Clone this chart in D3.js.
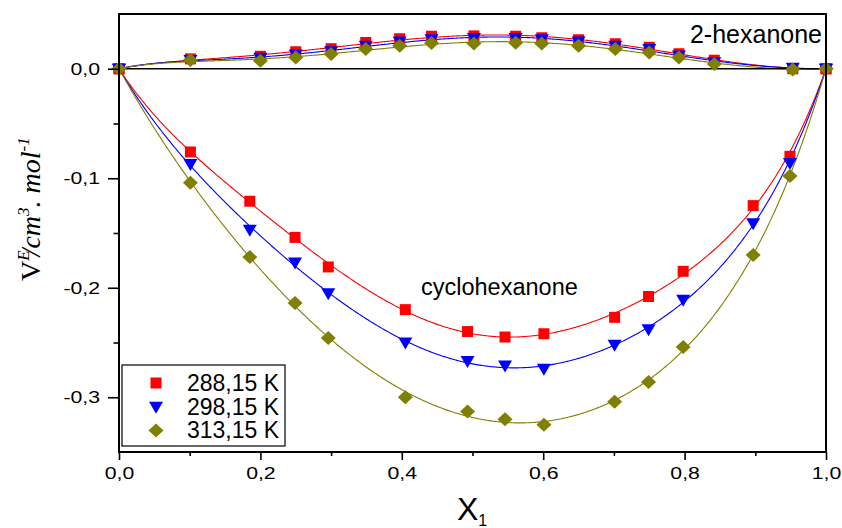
<!DOCTYPE html>
<html>
<head>
<meta charset="utf-8">
<script src="https://cdn.jsdelivr.net/npm/d3@7"></script>
<style>
  html, body { margin: 0; padding: 0; background: #fff; }
  svg { display: block; }
</style>
</head>
<body>
<svg id="chart" width="842" height="528"></svg>
<script>
// Excess molar volume V^E of the binary mixtures vs. mole fraction X1
const temperatures = ["288,15 K", "298,15 K", "313,15 K"];
const seriesColors = ["#ff0000", "#0000ff", "#808000"];
const markerKinds = ["square", "triangle", "diamond"];

// cyclohexanone system
const xCyclo  = [0, 0.101, 0.185, 0.249, 0.296, 0.405, 0.493, 0.546, 0.601, 0.701, 0.749, 0.798, 0.897, 0.949, 1];
const vCyclo288 = [0, -0.076, -0.121, -0.154, -0.181, -0.220, -0.240, -0.245, -0.242, -0.227, -0.208, -0.185, -0.125, -0.080, 0];
const vCyclo298 = [0, -0.087, -0.147, -0.177, -0.205, -0.250, -0.267, -0.271, -0.274, -0.252, -0.238, -0.211, -0.141, -0.086, 0];
const vCyclo313 = [0, -0.104, -0.172, -0.214, -0.246, -0.300, -0.313, -0.320, -0.325, -0.304, -0.286, -0.254, -0.170, -0.098, 0];

// 2-hexanone system
const xHex = [0, 0.101, 0.2, 0.25, 0.3, 0.349, 0.397, 0.442, 0.502, 0.561, 0.598, 0.65, 0.702, 0.75, 0.792, 0.842, 0.953, 1];
const vHex288 = [0, 0.009, 0.0114, 0.0155, 0.0183, 0.024, 0.0274, 0.0297, 0.030, 0.0297, 0.0283, 0.0265, 0.0228, 0.0196, 0.0137, 0.0078, 0.0, 0];
const vHex298 = [0, 0.008, 0.010, 0.013, 0.016, 0.021, 0.025, 0.027, 0.028, 0.028, 0.027, 0.025, 0.021, 0.018, 0.012, 0.006, 0.001, 0];
const vHex313 = [0, 0.0079, 0.0073, 0.0103, 0.0134, 0.018, 0.021, 0.0235, 0.0231, 0.0237, 0.0231, 0.021, 0.018, 0.0149, 0.0103, 0.0043, -0.0006, 0];

const xTicks = [0, 0.2, 0.4, 0.6, 0.8, 1.0];
const xMinorTicks = [0.1, 0.3, 0.5, 0.7, 0.9];
const yTicks = [0, -0.1, -0.2, -0.3];
const yMinorTicks = [-0.05, -0.15, -0.25];

const systems = [
  { x: xHex,   ys: [vHex288, vHex298, vHex313] },
  { x: xCyclo, ys: [vCyclo288, vCyclo298, vCyclo313] }
];

// Redlich–Kister least-squares fit: V = x(1-x) * sum A_k (2x-1)^k
function rkFit(xs, vs, nTerms) {
  const rows = [], rhs = [];
  xs.forEach((x, i) => {
    if (x <= 0 || x >= 1) return;
    const base = x * (1 - x);
    rows.push(d3.range(nTerms).map(k => base * Math.pow(2 * x - 1, k)));
    rhs.push(vs[i]);
  });
  const M = d3.range(nTerms).map(a => d3.range(nTerms).map(b => d3.sum(rows, r => r[a] * r[b])));
  const b = d3.range(nTerms).map(a => d3.sum(rows, (r, i) => r[a] * rhs[i]));
  for (let c = 0; c < nTerms; c++) {
    let p = c;
    for (let r = c + 1; r < nTerms; r++) if (Math.abs(M[r][c]) > Math.abs(M[p][c])) p = r;
    [M[c], M[p]] = [M[p], M[c]]; [b[c], b[p]] = [b[p], b[c]];
    for (let r = c + 1; r < nTerms; r++) {
      const f = M[r][c] / M[c][c];
      for (let k = c; k < nTerms; k++) M[r][k] -= f * M[c][k];
      b[r] -= f * b[c];
    }
  }
  const A = new Array(nTerms).fill(0);
  for (let r = nTerms - 1; r >= 0; r--) {
    let s = b[r];
    for (let k = r + 1; k < nTerms; k++) s -= M[r][k] * A[k];
    A[r] = s / M[r][r];
  }
  return x => x * (1 - x) * d3.sum(A, (a, k) => a * Math.pow(2 * x - 1, k));
}

const svg = d3.select("#chart");
const plotLeft = 119, plotRight = 826, plotTop = 14, plotBottom = 452;

const xScale = d3.scaleLinear().domain([0, 1]).range([plotLeft, plotRight]);
const yScale = d3.scaleLinear().domain([-0.35, 0.05]).range([plotBottom, plotTop]);

const fmt = d => d3.format(".1f")(d).replace(".", ",").replace("−", "-");

// fitted curves
const line = d3.line().x(d => xScale(d[0])).y(d => yScale(d[1])).curve(d3.curveLinear);
const grid = d3.range(0, 1.0001, 0.002);
systems.forEach(sys => {
  sys.ys.forEach((vs, si) => {
    const f = rkFit(sys.x, vs, 5);
    svg.append("path")
      .attr("d", line(grid.map(x => [x, f(x)])))
      .attr("fill", "none")
      .attr("stroke", seriesColors[si])
      .attr("stroke-width", 1.1);
  });
});

// zero line
svg.append("line")
  .attr("x1", plotLeft).attr("x2", plotRight)
  .attr("y1", yScale(0)).attr("y2", yScale(0))
  .attr("stroke", "#000").attr("stroke-width", 1.6);

// markers
function markerPath(kind) {
  if (kind === "square") return "M-5.5,-5.5H5.5V5.5H-5.5Z";
  if (kind === "triangle") return "M-7,-5H7L0,7Z";
  return "M0,-7L7.5,0L0,7L-7.5,0Z";
}
systems.forEach(sys => {
  sys.ys.forEach((vs, si) => {
    svg.append("g").selectAll("path")
      .data(sys.x.map((x, i) => [x, vs[i]]))
      .join("path")
      .attr("transform", d => `translate(${xScale(d[0])},${yScale(d[1])})`)
      .attr("d", markerPath(markerKinds[si]))
      .attr("fill", seriesColors[si]);
  });
});

// axes
const axisFont = "'Liberation Sans', Arial, sans-serif";
const labelStretch = 1.25;
const gx = svg.append("g").attr("transform", `translate(0,${plotBottom})`)
  .call(d3.axisBottom(xScale).tickValues(xTicks).tickFormat(fmt).tickSize(8).tickPadding(6));
const gxm = svg.append("g").attr("transform", `translate(0,${plotBottom})`)
  .call(d3.axisBottom(xScale).tickValues(xMinorTicks).tickFormat("").tickSize(4));
const gy = svg.append("g").attr("transform", `translate(${plotLeft},0)`)
  .call(d3.axisLeft(yScale).tickValues(yTicks).tickFormat(fmt).tickSize(11).tickPadding(6));
const gym = svg.append("g").attr("transform", `translate(${plotLeft},0)`)
  .call(d3.axisLeft(yScale).tickValues(yMinorTicks).tickFormat("").tickSize(5.5));
[gx, gxm, gy, gym].forEach(g => {
  g.select(".domain").remove();
  g.selectAll(".tick line").attr("stroke", "#000").attr("stroke-width", 1.6);
  g.selectAll("text").attr("font-family", axisFont).attr("font-size", 17).attr("fill", "#000")
    .attr("transform", `scale(${labelStretch},1)`);
});
gx.selectAll("text").attr("dy", "0.71em").attr("y", 15);
gy.selectAll("text").attr("x", -19 / labelStretch);

// frame
svg.append("rect")
  .attr("x", plotLeft).attr("y", plotTop)
  .attr("width", plotRight - plotLeft).attr("height", plotBottom - plotTop)
  .attr("fill", "none").attr("stroke", "#000").attr("stroke-width", 2);

// system labels
svg.append("text").attr("x", 822).attr("y", 43).attr("text-anchor", "end")
  .attr("font-family", axisFont).attr("font-size", 25).text("2-hexanone");
svg.append("text").attr("x", 421).attr("y", 295)
  .attr("font-family", axisFont).attr("font-size", 23.5).text("cyclohexanone");

// x title
const xt = svg.append("text").attr("x", 457).attr("y", 520)
  .attr("font-family", axisFont).attr("font-size", 32);
xt.append("tspan").text("X");
xt.append("tspan").attr("font-size", 16).attr("dy", 6).text("1");

// y title
const yt = svg.append("text")
  .attr("transform", "translate(40,281) rotate(-90)")
  .attr("font-family", "'Liberation Serif', 'Times New Roman', serif")
  .attr("font-size", 28);
yt.append("tspan").text("V");
yt.append("tspan").attr("font-style", "italic").attr("font-size", 17).attr("dy", -11).text("E");
yt.append("tspan").attr("font-style", "italic").attr("dy", 11).attr("dx", -6).text("/cm");
yt.append("tspan").attr("font-style", "italic").attr("font-size", 17).attr("dy", -11).text("3");
yt.append("tspan").attr("font-style", "italic").attr("dy", 11).text(". mol");
yt.append("tspan").attr("font-style", "italic").attr("font-size", 17).attr("dy", -11).text("-1");

// legend
const lg = svg.append("g");
lg.append("rect").attr("x", 122).attr("y", 365).attr("width", 163).attr("height", 81)
  .attr("fill", "#fff").attr("stroke", "#000").attr("stroke-width", 1.2);
temperatures.forEach((t, i) => {
  const cy = 383 + i * 23.7;
  lg.append("path").attr("transform", `translate(156,${cy})`)
    .attr("d", markerPath(markerKinds[i])).attr("fill", seriesColors[i]);
  lg.append("text").attr("x", 187).attr("y", cy + 8)
    .attr("font-family", axisFont).attr("font-size", 23).text(t);
});
</script>
</body>
</html>
